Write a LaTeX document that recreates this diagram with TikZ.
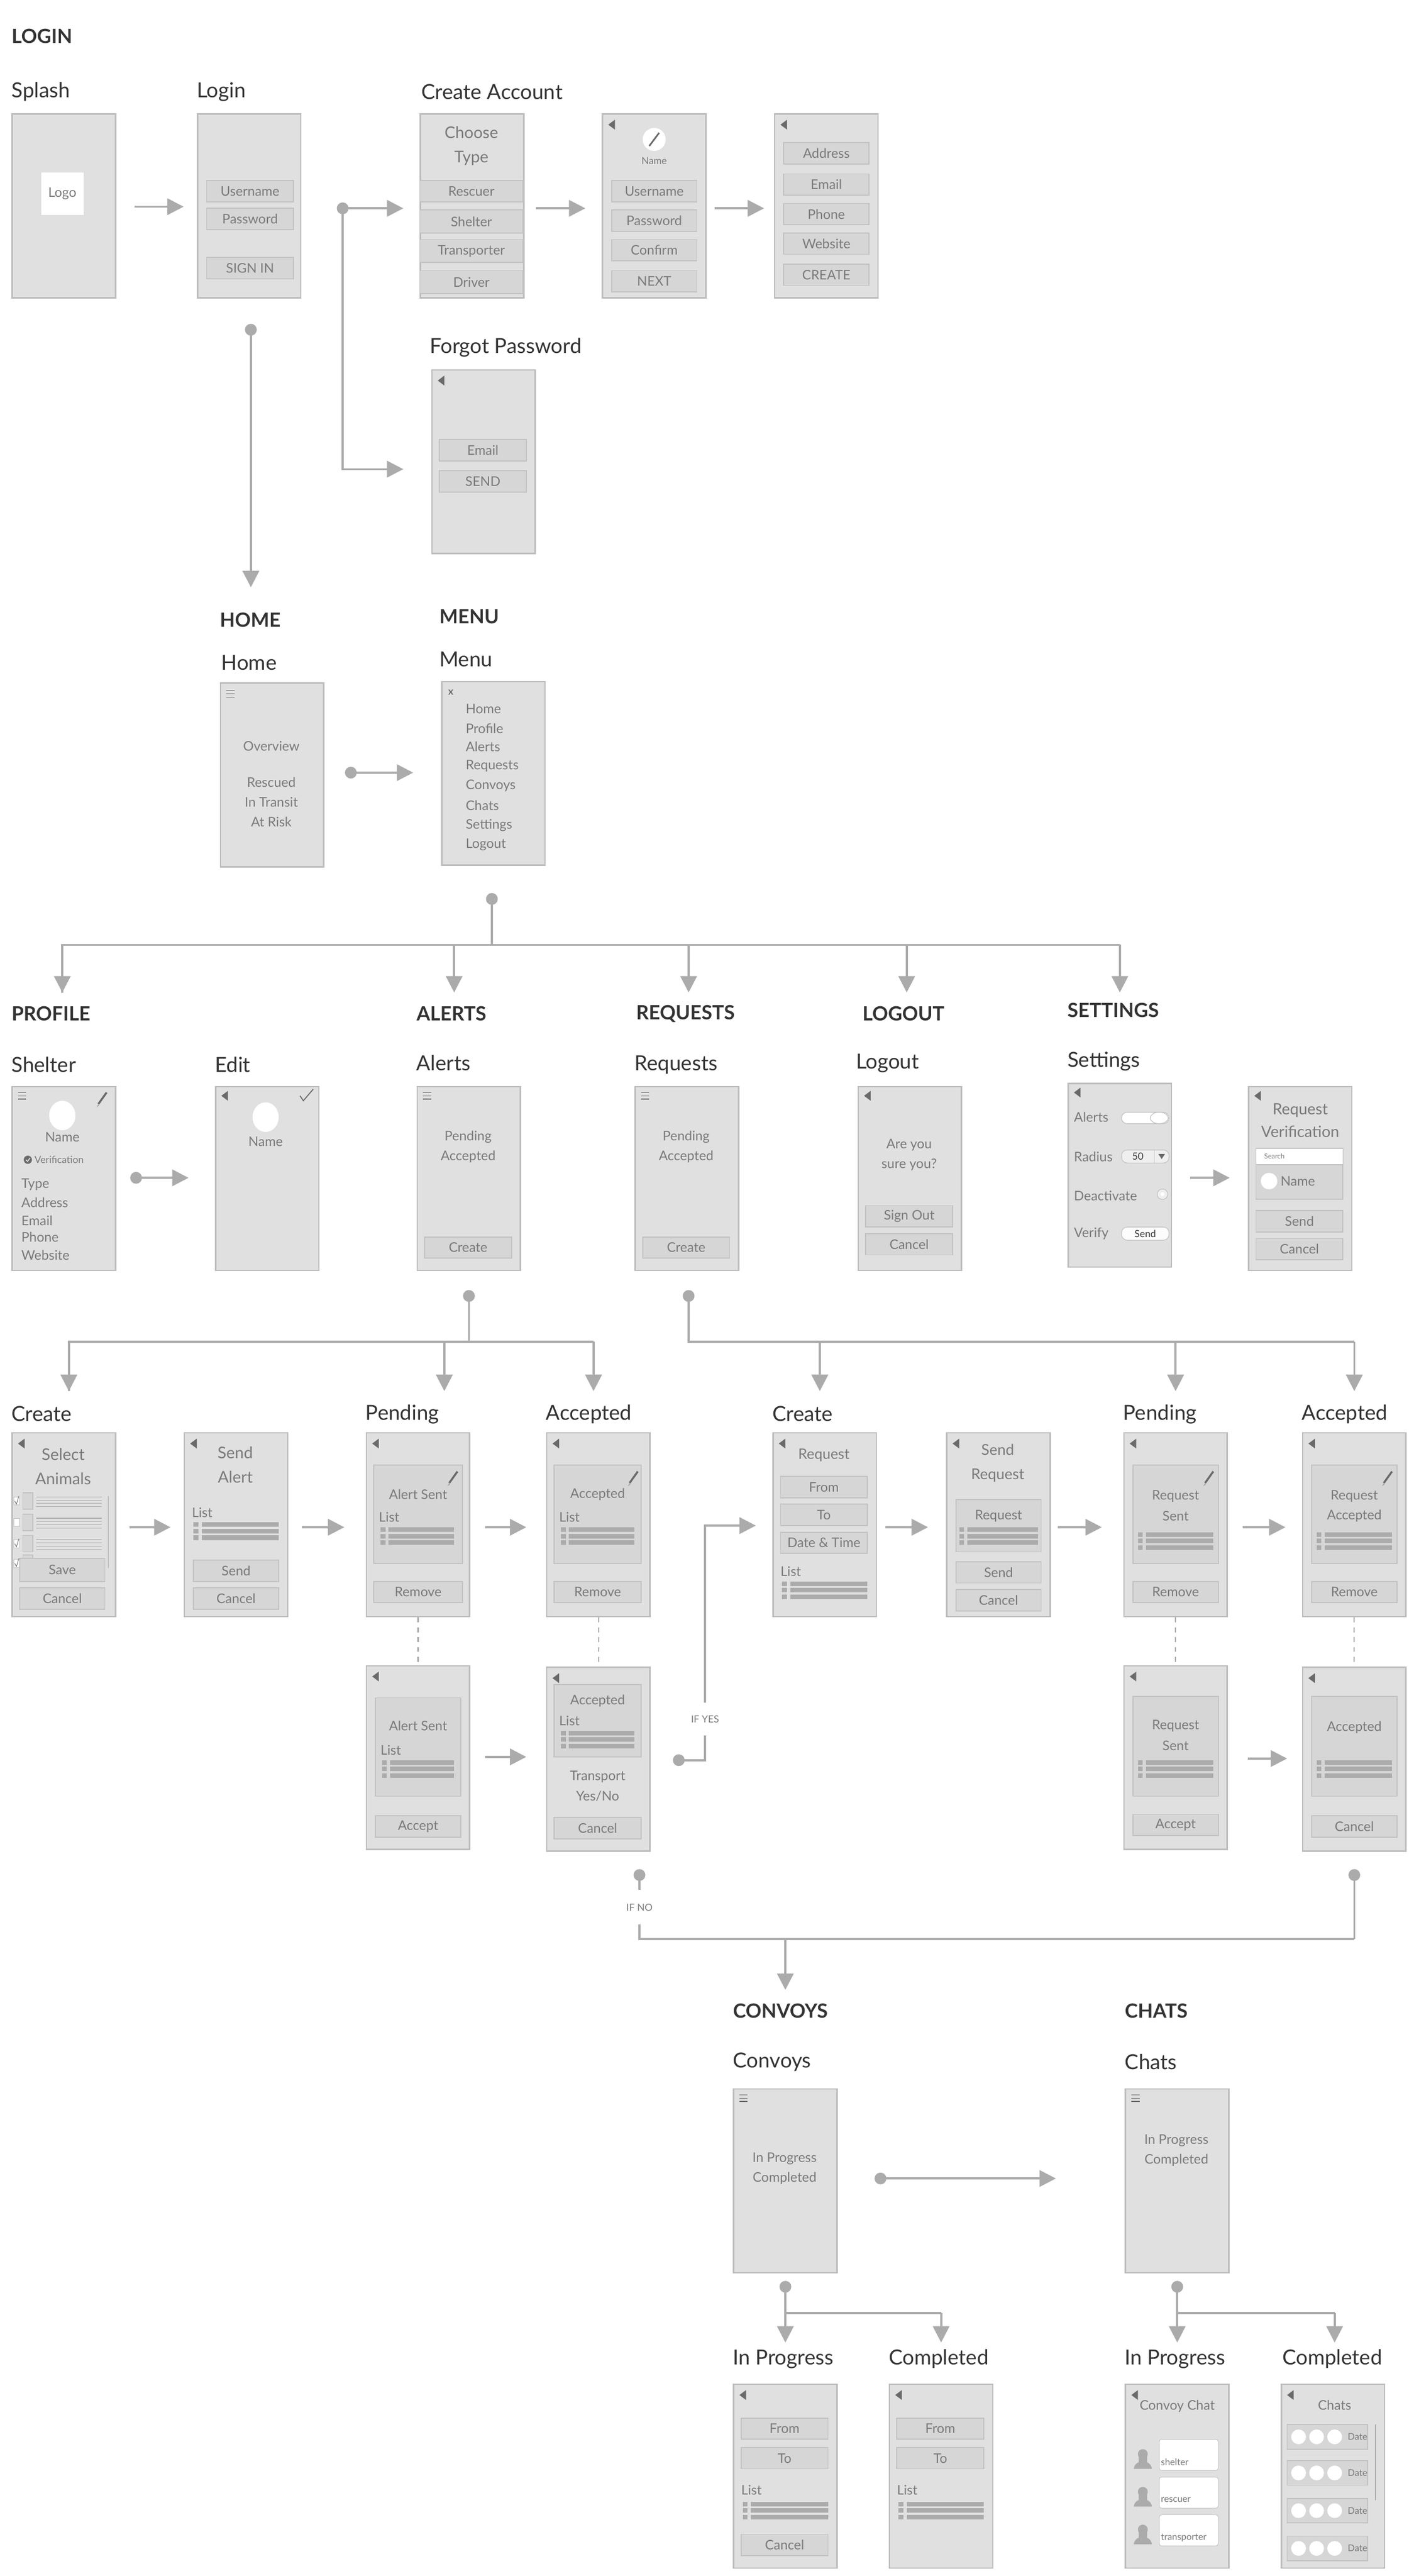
\documentclass[tikz,border=0pt]{standalone}
\usepackage{fontspec}
\setmainfont{Lato}
\usetikzlibrary{arrows.meta}
\definecolor{scrfill}{HTML}{E0E0E0}
\definecolor{scrline}{HTML}{BDBDBD}
\definecolor{btnfill}{HTML}{D6D6D6}
\definecolor{btnline}{HTML}{C2C2C2}
\definecolor{txtc}{HTML}{7A7A7A}
\definecolor{headc}{HTML}{333333}
\definecolor{barc}{HTML}{ABABAB}
\definecolor{connc}{HTML}{ABABAB}
\definecolor{iconc}{HTML}{6A6A6A}
\tikzset{
 scr/.style={draw=scrline,fill=scrfill,line width=0.9mm,minimum width=63mm,minimum height=112mm,inner sep=0pt},
 btn/.style={draw=btnline,fill=btnfill,line width=0.6mm},
 txt/.style={text=txtc,font=\fontsize{23}{26}\selectfont,inner sep=0pt},
 bigtxt/.style={text=txtc,font=\fontsize{28}{42}\selectfont,inner sep=0pt,align=center},
 smalltxt/.style={text=txtc,font=\fontsize{17}{20}\selectfont,inner sep=0pt},
 head/.style={text=headc,font=\fontsize{36}{40}\selectfont,anchor=west,inner sep=0pt},
 sect/.style={text=headc,font=\bfseries\fontsize{34}{38}\selectfont,anchor=west,inner sep=0pt},
 conn/.style={draw=connc,line width=1.3mm},
 arr/.style={conn,-{Triangle[length=10mm,width=10mm]}},
 dsh/.style={draw=connc,line width=0.7mm,dash pattern=on 3mm off 3mm},
}
\newcommand\Scr[3]{\node[scr,anchor=north west] (#1) at (#2,#3) {};}
\newcommand\Btn[5]{\draw[btn] (#1,#2) rectangle (#3,#4); \node[txt] at ({(#1+#3)/2},{(#2+#4)/2}) {#5};}
\newcommand\Bx[4]{\draw[btn] (#1,#2) rectangle (#3,#4);}
\newcommand\Back[2]{\fill[iconc] (#1,#2) -- ++(4,-3) -- ++(0,6) -- cycle;}
\newcommand\Ham[2]{\draw[iconc,line width=0.4mm] (#1,#2) -- ++(5,0) (#1,#2+2) -- ++(5,0) (#1,#2+4) -- ++(5,0);}
\newcommand\Bars[3]{\foreach \k in {0,4,8}{\fill[barc] (#1,#2+\k) rectangle ++(3,2.8); \fill[barc] (#1+5,#2+\k) rectangle (#3,#2+\k+2.8);}}
\newcommand\Pencil[2]{\draw[iconc,line width=1.2mm] (#1,#2) -- ++(-5,7); \fill[barc] (#1-5,#2+7) -- ++(-1.2,2) -- ++(1.6,-0.9) -- cycle;}
\newcommand\Dot[2]{\fill[connc] (#1,#2) circle (3.6);}
\newcommand\Avatar[2]{\fill[barc] (#1,#2) circle (3) (#1-5.5,#2+9) .. controls (#1-5,#2+3) and (#1+5,#2+3) .. (#1+5.5,#2+9) -- cycle; \fill[barc] (#1-2.6,#2) rectangle (#1+2.6,#2+5);}
\begin{document}
\begin{tikzpicture}[x=1mm,y=-1mm]
\useasboundingbox[fill=white] (0,0) rectangle (862.07,1570.34);
% ================= LOGIN
\node[sect] (sLogin) at (7,22) {LOGIN};
\node[head] (hSplash) at (7,56) {Splash};
\node[head] (hLogin) at (120,56) {Login};
\node[head] (hCreate) at (257,56) {Create Account};
\Scr{splash}{7}{69}
\fill[white] (25,105) rectangle (51,131); \node[txt] at (38,118) {Logo};
\Scr{login}{120}{69}
\Btn{126}{110}{179}{123}{Username}
\Btn{126}{127}{179}{140}{Password}
\Btn{126}{157}{179}{170}{SIGN IN}
\Scr{choose}{256}{69}
\node[bigtxt] at (287.5,89) {Choose\\Type};
\Btn{256}{110}{319}{123}{Rescuer}
\Btn{256}{128}{319}{142}{Shelter}
\Btn{256}{146}{319}{160}{Transporter}
\Btn{256}{165}{319}{179}{Driver}
\Scr{acc2}{367}{69}
\Back{371}{76}
\fill[white] (399,85) circle (7); \draw[iconc,line width=1mm] (402,81) -- (396,89);
\node[smalltxt] at (399,98) {Name};
\Btn{373}{110}{425}{123}{Username}
\Btn{373}{128}{425}{141}{Password}
\Btn{373}{146}{425}{159}{Confirm}
\Btn{373}{165}{425}{178}{NEXT}
\Scr{acc3}{472}{69}
\Back{476}{76}
\Btn{478}{87}{530}{100}{Address}
\Btn{478}{106}{530}{119}{Email}
\Btn{478}{124}{530}{137}{Phone}
\Btn{478}{142}{530}{155}{Website}
\Btn{478}{161}{530}{174}{CREATE}
\node[head] (hForgot) at (262,212) {Forgot Password};
\Scr{forgot}{263}{225}
\Back{267}{232}
\Btn{268}{268}{321}{281}{Email}
\Btn{268}{287}{321}{300}{SEND}
\draw[arr] (82,126) -- (112,126);
\Dot{209}{127}
\draw[arr] (209,127) -- (246,127);
\draw[arr] (209,127) -- (209,286) -- (246,286);
\draw[arr] (327,127) -- (357,127);
\draw[arr] (436,127) -- (466,127);
\Dot{153}{201}
\draw[arr] (153,201) -- (153,358);
% ================= HOME / MENU
\node[sect] at (134,378) {HOME};
\node[head] at (135,404) {Home};
\Scr{home}{134}{416}
\Ham{138}{421}
\node[txt,align=center] at (165.5,455) {Overview};
\node[txt,align=center] at (165.5,477) {Rescued};
\node[txt,align=center] at (165.5,489) {In Transit};
\node[txt,align=center] at (165.5,501) {At Risk};
\node[sect] at (268,376) {MENU};
\node[head] at (268,402) {Menu};
\Scr{menu}{269}{415}
\node[smalltxt,text=iconc,font=\bfseries\fontsize{17}{20}\selectfont] at (275,422) {x};
\foreach \t/\yy in {Home/432,Profile/444,Alerts/455,Requests/467,Convoys/479,Chats/491,Settings/503,Logout/515}
  {\node[txt,anchor=west] at (284,\yy) {\t};}
\Dot{214}{471}
\draw[arr] (214,471) -- (252,471);
\Dot{300}{548}
\draw[conn] (300,548) -- (300,576);
\draw[conn] (38,605) -- (38,576) -- (683,576);
\foreach \xx in {38,277,420,553,683}{\draw[arr] (\xx,576) -- (\xx,605);}
% ================= PROFILE etc
\node[sect] at (7,618) {PROFILE};
\node[sect] at (254,618) {ALERTS};
\node[sect] at (388,618) {REQUESTS};
\node[sect] at (526,618) {LOGOUT};
\node[sect] at (651,616) {SETTINGS};
\node[head] at (7,649) {Shelter};
\node[head] at (131,649) {Edit};
\node[head] at (254,648) {Alerts};
\node[head] at (387,649) {Requests};
\node[head] at (522,648) {Logout};
\node[head] at (651,647) {Settings};
\Scr{shelter}{7}{662}
\Ham{11}{666}
\Pencil{65}{666}
\fill[white] (38,680) ellipse (8 and 9);
\node[txt] at (38,693) {Name};
\fill[iconc] (17,707) circle (2.5); \draw[white,line width=0.4mm] (15.8,707) -- (16.8,708) -- (18.4,705.8);
\node[smalltxt,anchor=west] at (21,707) {Verification};
\foreach \t/\yy in {Type/722,Address/733,Email/744,Phone/754,Website/765}{\node[txt,anchor=west] at (13,\yy) {\t}; \node[txt,anchor=west] at (137,\yy) {\t};}
\Scr{edit}{131}{662}
\Back{135}{668}
\draw[iconc,line width=0.6mm] (183,668) -- (185,671) -- (191,664);
\fill[white] (162,681) ellipse (8 and 9);
\node[txt] at (162,696) {Name};
\Dot{83}{718}
\draw[arr] (83,718) -- (115,718);
\Scr{alerts}{254}{662}
\Ham{258}{666}
\node[txt] at (285.5,693) {Pending};
\node[txt] at (285.5,705) {Accepted};
\Btn{259}{754}{312}{767}{Create}
\Scr{requests}{387}{662}
\Ham{391}{666}
\node[txt] at (418.5,693) {Pending};
\node[txt] at (418.5,705) {Accepted};
\Btn{392}{754}{445}{767}{Create}
\Scr{logout}{523}{662}
\Back{527}{668}
\node[txt] at (554.5,698) {Are you};
\node[txt] at (554.5,710) {sure you?};
\Btn{528}{735}{581}{748}{Sign Out}
\Btn{528}{752}{581}{765}{Cancel}
\node[scr,anchor=north west] (settings) at (651,660) {};
\Back{655}{666}
\node[txt,anchor=west] at (655,681) {Alerts};
\draw[btnline,fill=white,line width=0.4mm,rounded corners=3.5mm] (684,678) rectangle (713,685);
\draw[btnline,fill=white,line width=0.4mm] (707,681.5) ellipse (5.5 and 3.5);
\node[txt,anchor=west] at (655,705) {Radius};
\draw[btnline,fill=btnfill!40!white,line width=0.4mm,rounded corners=3.5mm] (684,701) rectangle (713,709);
\draw[btnline,line width=0.4mm] (704,701) -- (704,709);
\node[smalltxt,text=headc] at (694,705) {50};
\fill[iconc] (706.5,703.5) -- (710.5,703.5) -- (708.5,706.5) -- cycle;
\node[txt,anchor=west] at (655,729) {Deactivate};
\draw[btnline,fill=btnfill!40!white,line width=0.4mm] (709,728) circle (3.2); \fill[white] (709,728) circle (1.2);
\node[txt,anchor=west] at (655,752) {Verify};
\draw[btnline,fill=white!90!scrfill,line width=0.4mm,rounded corners=3.5mm] (684,748) rectangle (713,756);
\node[smalltxt,text=headc] at (698.5,752) {Send};
\Scr{reqver}{761}{662}
\Back{765}{668}
\node[bigtxt,font=\fontsize{27}{40}\selectfont] at (793,683) {Request\\Verification};
\Bx{766}{710}{819}{731}
\fill[white] (766,700) rectangle (819,710); \draw[btnline,line width=0.4mm] (766,700) rectangle (819,710);
\node[smalltxt,font=\fontsize{12}{14}\selectfont,anchor=west] at (771,705) {Search};
\fill[white] (774,720) circle (5);
\node[txt,anchor=west] at (781,720) {Name};
\Btn{766}{738}{819}{751}{Send}
\Btn{766}{755}{819}{768}{Cancel}
\draw[arr] (726,718) -- (750,718);
% ================= ALERTS flows
\Dot{286}{790}
\draw[conn] (286,790) -- (286,818);
\draw[conn] (42,848) -- (42,818) -- (362,818);
\foreach \xx in {42,271,362}{\draw[arr] (\xx,818) -- (\xx,848);}
\Dot{420}{790}
\draw[conn] (420,790) -- (420,818) -- (826,818);
\foreach \xx in {500,717,826}{\draw[arr] (\xx,818) -- (\xx,848);}
\node[head] at (7,862) {Create};
\node[head] at (223,862) {Pending};
\node[head] at (333,862) {Accepted};
\node[head] at (471,862) {Create};
\node[head] at (685,862) {Pending};
\node[head] at (794,862) {Accepted};
% select animals
\Scr{selanim}{7}{873}
\Back{11}{880}
\node[bigtxt] at (38.5,894) {Select\\Animals};
\foreach \yy in {915,928,941,953}{
  \draw[btnline,fill=white,line width=0.3mm] (8.5,\yy-2.5) rectangle (12,\yy+2.5);
  \Bx{14}{\yy-5}{20}{\yy+5}
  \foreach \k in {-2.5,-0.5,1.5,3.5}{\draw[barc,line width=0.4mm] (22,\yy+\k) -- (62,\yy+\k);}}
\foreach \yy in {915,941,953}{\draw[iconc,line width=0.3mm] (9,\yy) -- (10,\yy+2) -- (11.5,\yy-3);}
\draw[barc,line width=0.5mm] (66,912) -- (66,956);
\Btn{12}{950}{64}{964}{Save}
\Btn{12}{968}{64}{981}{Cancel}
% send alert
\Scr{sendalert}{112}{873}
\Back{116}{880}
\node[bigtxt] at (143.5,893) {Send\\Alert};
\node[txt,anchor=west] at (117,922) {List};
\Bars{118}{928}{170}
\Btn{118}{951}{170}{964}{Send}
\Btn{118}{968}{170}{981}{Cancel}
% pending
\Scr{pend}{223}{873}
\Back{227}{880}
\Bx{228}{893}{282}{953}
\Pencil{279}{897}
\node[txt] at (255,911) {Alert Sent};
\node[txt,anchor=west] at (231,925) {List};
\Bars{232}{931}{277}
\Btn{228}{964}{282}{977}{Remove}
% accepted
\Scr{acc}{333}{873}
\Back{337}{880}
\Bx{338}{893}{391}{953}
\Pencil{389}{897}
\node[txt] at (364.5,911) {Accepted};
\node[txt,anchor=west] at (341,925) {List};
\Bars{342}{931}{387}
\Btn{338}{964}{391}{977}{Remove}
% request create
\Scr{reqcreate}{471}{873}
\Back{475}{880}
\node[txt,font=\fontsize{25}{28}\selectfont] at (502.5,887) {Request};
\Btn{476}{900}{529}{913}{From}
\Btn{476}{917}{529}{930}{To}
\Btn{476}{934}{529}{947}{Date \& Time}
\node[txt,anchor=west] at (476,958) {List};
\Bars{477}{964}{529}
% send request
\Scr{sendreq}{577}{873}
\Back{581}{880}
\node[bigtxt,font=\fontsize{26}{42}\selectfont] at (608.5,892) {Send\\Request};
\Bx{583}{914}{635}{946}
\node[txt] at (609,924) {Request};
\Bars{585}{931}{633}
\Btn{583}{952}{635}{965}{Send}
\Btn{583}{969}{635}{982}{Cancel}
% req pending
\Scr{rpend}{685}{873}
\Back{689}{880}
\Bx{691}{893}{743}{953}
\Pencil{740}{897}
\node[txt] at (717,912) {Request};
\node[txt] at (717,924) {Sent};
\Bars{694}{934}{740}
\Btn{691}{964}{743}{977}{Remove}
% req accepted
\Scr{racc}{794}{873}
\Back{798}{880}
\Bx{800}{893}{852}{953}
\Pencil{849}{897}
\node[txt] at (826,912) {Request};
\node[txt] at (826,924) {Accepted};
\Bars{803}{934}{849}
\Btn{800}{964}{852}{977}{Remove}
\foreach \a/\b in {79/104,184/210,296/321,540/566,645/672,758/784}{\draw[arr] (\a,931) -- (\b,931);}
% second row
\draw[dsh] (255,986) -- (255,1015);
\draw[dsh] (365,986) -- (365,1016);
\draw[dsh] (717,986) -- (717,1015);
\draw[dsh] (826,986) -- (826,1016);
\Scr{pend2}{223}{1015}
\Back{227}{1022}
\Bx{229}{1035}{281}{1095}
\node[txt] at (255,1052) {Alert Sent};
\node[txt,anchor=west] at (232,1067) {List};
\Bars{233}{1073}{277}
\Btn{229}{1107}{281}{1120}{Accept}
\Scr{acc2b}{333}{1016}
\Back{337}{1023}
\Bx{338}{1027}{391}{1071}
\node[txt] at (364.5,1037) {Accepted};
\node[txt,anchor=west] at (341,1049) {List};
\Bars{342}{1055}{387}
\node[txt] at (364.5,1083) {Transport};
\node[txt] at (364.5,1095) {Yes/No};
\Btn{338}{1108}{391}{1121}{Cancel}
\draw[arr] (296,1071) -- (321,1071);
\Scr{rpend2}{685}{1015}
\Back{689}{1022}
\Bx{691}{1034}{743}{1095}
\node[txt] at (717,1052) {Request};
\node[txt] at (717,1064) {Sent};
\Bars{694}{1073}{740}
\Btn{691}{1106}{743}{1119}{Accept}
\Scr{racc2}{794}{1016}
\Back{798}{1023}
\Bx{800}{1034}{852}{1095}
\node[txt] at (826,1053) {Accepted};
\Bars{803}{1073}{849}
\Btn{800}{1107}{852}{1120}{Cancel}
\draw[arr] (761,1072) -- (785,1072);
% IF YES / IF NO
\Dot{414}{1073}
\draw[conn] (414,1073) -- (430,1073) -- (430,1058);
\node[smalltxt] at (430,1048) {IF YES};
\draw[arr] (430,1038) -- (430,930) -- (461,930);
\Dot{390}{1143}
\draw[conn] (390,1143) -- (390,1152);
\node[smalltxt] at (390,1163) {IF NO};
\draw[conn] (390,1173) -- (390,1182) -- (826,1182);
\Dot{826}{1143}
\draw[conn] (826,1143) -- (826,1182);
\draw[arr] (479,1182) -- (479,1213);
% ================= CONVOYS / CHATS
\node[sect] at (447,1226) {CONVOYS};
\node[sect] at (686,1226) {CHATS};
\node[head] at (447,1257) {Convoys};
\node[head] at (686,1257) {Chats};
\Scr{convoys}{447}{1273}
\Ham{451}{1277}
\node[txt] at (478.5,1316) {In Progress};
\node[txt] at (478.5,1328) {Completed};
\Scr{chats}{686}{1273}
\Ham{690}{1277}
\node[txt] at (717.5,1305) {In Progress};
\node[txt] at (717.5,1317) {Completed};
\Dot{537}{1328}
\draw[arr] (537,1328) -- (644,1328);
\Dot{479}{1394}
\draw[conn] (479,1394) -- (479,1410) -- (574,1410);
\draw[arr] (479,1410) -- (479,1428);
\draw[arr] (574,1410) -- (574,1428);
\Dot{718}{1394}
\draw[conn] (718,1394) -- (718,1410) -- (814,1410);
\draw[arr] (718,1410) -- (718,1428);
\draw[arr] (814,1410) -- (814,1428);
\node[head] at (447,1438) {In Progress};
\node[head] at (542,1438) {Completed};
\node[head] at (686,1438) {In Progress};
\node[head] at (782,1438) {Completed};
\Scr{cip}{447}{1453}
\Back{451}{1460}
\Btn{452}{1474}{505}{1487}{From}
\Btn{452}{1492}{505}{1505}{To}
\node[txt,anchor=west] at (452,1518) {List};
\Bars{453}{1525}{505}
\Btn{452}{1545}{505}{1558}{Cancel}
\Scr{ccomp}{542}{1453}
\Back{546}{1460}
\Btn{547}{1474}{600}{1487}{From}
\Btn{547}{1492}{600}{1505}{To}
\node[txt,anchor=west] at (547,1518) {List};
\Bars{548}{1525}{600}
\Scr{chip}{686}{1453}
\Back{690}{1460}
\node[txt] at (718,1467) {Convoy Chat};
\foreach \yy/\t in {1487/shelter,1510/rescuer,1533/transporter}{
  \Avatar{697}{\yy+9}
  \draw[btnline,fill=white,line width=0.3mm,rounded corners=1.5mm] (707,\yy) rectangle (743,\yy+19);
  \node[smalltxt,font=\fontsize{16}{18}\selectfont,anchor=west] at (708,\yy+14) {\t};}
\Scr{chcomp}{781}{1453}
\Back{785}{1460}
\node[txt] at (814,1466) {Chats};
\foreach \yy in {1478,1500,1523,1546}{
  \Bx{785}{\yy}{834}{\yy+15}
  \foreach \cx in {792,803,814}{\fill[white] (\cx,\yy+7.5) circle (4.5);}
  \node[smalltxt,font=\fontsize{16}{18}\selectfont] at (828,\yy+7.5) {Date};}
\draw[barc,line width=0.6mm] (839,1478) -- (839,1524);
\end{tikzpicture}
\end{document}
